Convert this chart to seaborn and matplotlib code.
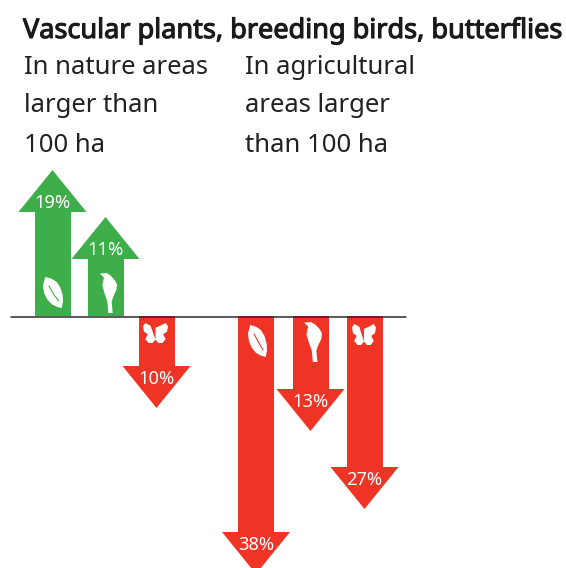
import matplotlib
matplotlib.use("Agg")
import matplotlib.pyplot as plt
import matplotlib.patheffects as pe
import seaborn as sns
import pandas as pd
from matplotlib.patches import Polygon

# --- data ---
taxa = ["plants", "birds", "butterflies", "plants", "birds", "butterflies"]
areas = ["nature", "nature", "nature", "agricultural", "agricultural", "agricultural"]
percent = [19, 11, -10, -38, -13, -27]
arrow_length = [146, 99, -92, -258, -115, -193]  # drawn arrow length
title = "Vascular plants, breeding birds, butterflies"
head_left = ["In nature areas", "larger than", "100 ha"]
head_right = ["In agricultural", "areas larger", "than 100 ha"]

# --- layout & style ---
W, H = 566, 568
BASE = 316
CENTERS = [52.5, 105.5, 156.5, 256, 310.5, 364.5]
SHAFT = 36
HEAD_W = 68
HEAD_H = 42
GREEN = "#3DAE4A"
RED = "#EF3325"
FONT = ["Noto Sans", "DejaVu Sans"]

LEAF = [(137,320),(155,325),(170,335),(181,352),(188,375),(189,395),(185,415),(170,411),(155,403),(142,388),(133,368),(130,345)]
BIRD = [(300,310),(320,308),(332,316),(343,328),(351,342),(349,360),(340,380),(335,395),(338,430),(325,430),(322,395),(313,368),(307,345),(310,330),(312,322)]
BF_R = [(467,474),(482,468),(498,460),(505,470),(502,486),(490,494),(498,508),(488,520),(476,520),(467,510)]
BF = BF_R + [(934 - x, y) for x, y in reversed(BF_R[1:-1])] + [(467,510)]
ICON_BOX = {  # x0, x1, y-top, y-bottom in picture pixels
    0: (LEAF, 43, 63, 277, 308), 1: (BIRD, 100, 117, 273, 313), 2: (BF, 143, 168, 323, 343),
    3: (LEAF, 248, 267, 325, 357), 4: (BIRD, 304, 322, 322, 362), 5: (BF, 352, 376, 324, 345),
}

sns.set_theme(style="white")
plt.rcParams["font.family"] = FONT
fig = plt.figure(figsize=(W / 100, H / 100), dpi=100)
ax = fig.add_axes([0, 0, 1, 1])

df = pd.DataFrame({
    "x": CENTERS,
    "shaft": [v - (HEAD_H if v > 0 else -HEAD_H) for v in arrow_length],
    "dir": ["up" if v > 0 else "down" for v in arrow_length],
    "taxon": taxa, "area": areas,
})
min_gap = min(b - a for a, b in zip(CENTERS, CENTERS[1:]))
sns.barplot(data=df, x="x", y="shaft", hue="dir", palette={"up": GREEN, "down": RED},
            native_scale=True, dodge=False, width=SHAFT / min_gap, legend=False, ax=ax,
            linewidth=0, saturation=1, errorbar=None)

ax.set_xlim(0, W)
ax.set_ylim(BASE - H, BASE)
ax.axis("off")

for i, (cx, v, p) in enumerate(zip(CENTERS, arrow_length, percent)):
    s = 1 if v > 0 else -1
    col = GREEN if s > 0 else RED
    neck = v - s * HEAD_H
    ax.add_patch(Polygon([(cx - HEAD_W / 2, neck), (cx + HEAD_W / 2, neck), (cx, v)],
                         closed=True, fc=col, ec="none", zorder=3))
    ax.text(cx, neck + (9 if s > 0 else -13), f"{abs(p)}%",
            color="white", ha="center", va="center", fontsize=13.2, zorder=5)
    pts, x0, x1, yt, yb = ICON_BOX[i]
    xs = [q[0] for q in pts]; ys = [q[1] for q in pts]
    mapped = [(x0 + (a - min(xs)) / (max(xs) - min(xs)) * (x1 - x0),
               BASE - (yt + (b - min(ys)) / (max(ys) - min(ys)) * (yb - yt))) for a, b in pts]
    ax.add_patch(Polygon(mapped, closed=True, fc="white", ec="none", zorder=4))
    if pts is LEAF:
        ax.plot([x0 + 6, x0 + 11, x1 - 4], [BASE - yt - 9, BASE - yt - 18, BASE - yb + 7],
                color=col, lw=0.8, zorder=5)

ax.plot([11, 406], [-0.5, -0.5], color="#2b2b2b", lw=1.1, zorder=6)

ax.text(23, BASE - 31, title, fontsize=19.5, color="#1a1a1a", ha="left", va="center",
        path_effects=[pe.withStroke(linewidth=0.8, foreground="#1a1a1a")])
for k, (l, r) in enumerate(zip(head_left, head_right)):
    yy = BASE - (67 + 39 * k)
    ax.text(24, yy, l, fontsize=18.5, color="#222222", ha="left", va="center")
    ax.text(245, yy, r, fontsize=18.5, color="#222222", ha="left", va="center")

fig.savefig("out.png", dpi=100)
